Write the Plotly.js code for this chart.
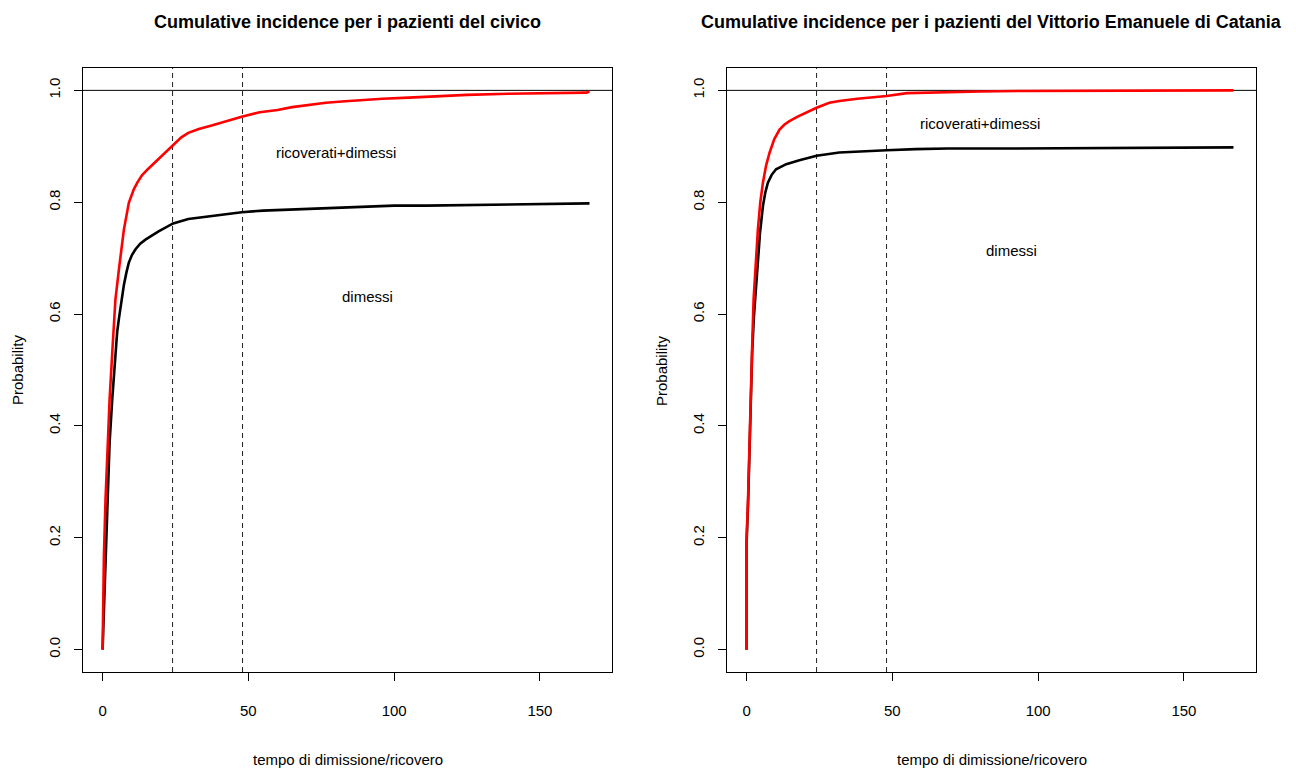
<!DOCTYPE html>
<html>
<head>
<meta charset="utf-8">
<script src="https://cdn.plot.ly/plotly-3.0.1.min.js"></script>
<style>html,body{margin:0;padding:0;background:#fff;}#chart{width:1296px;height:773px;}</style>
</head>
<body>
<div id="chart"></div>
<script>
// ---- Data ----
const civTimeTot = [0,0.45,1.0,1.7,2.4,3.3,4.1,4.4,5.6,7.3,9.0,10.7,12,13.5,15.5,18.1,21,24.2,27,29.4,33,37.4,42,47.7,53.9,60,65,70,76.6,82,90,96,105,113,125,139,155,166,167];
const civProbTot = [0,0.167,0.268,0.36,0.447,0.53,0.59,0.626,0.68,0.751,0.799,0.823,0.836,0.848,0.859,0.872,0.886,0.902,0.916,0.924,0.931,0.937,0.944,0.953,0.961,0.965,0.97,0.974,0.978,0.98,0.983,0.985,0.987,0.989,0.992,0.994,0.995,0.996,0.998];
const civTimeDim = [0,0.2,0.8,1.6,2.4,3.3,4.2,5.0,5.6,6.5,7.3,8.2,9.0,10.1,11.3,12.9,14.7,19.2,24.2,29.4,38,47.7,55,65,74,82,90.7,100,111,125,146,166,167];
const civProbDim = [0,0.03,0.125,0.268,0.37,0.447,0.52,0.568,0.592,0.625,0.652,0.675,0.692,0.706,0.716,0.726,0.733,0.748,0.762,0.77,0.776,0.782,0.785,0.787,0.79,0.791,0.793,0.794,0.794,0.795,0.796,0.797,0.798];

const veTimeTot = [0,0,0.5,0.9,1.37,1.9,2.4,2.73,3.87,4.7,5.6,6.7,7.9,9.5,11.3,13,14.7,17.5,20.4,24,28.4,31.8,38,48,55,62,70,80,94.5,120,150,167];
const veProbTot = [0,0.2,0.27,0.36,0.447,0.54,0.626,0.656,0.751,0.8,0.835,0.866,0.889,0.913,0.93,0.939,0.945,0.953,0.96,0.969,0.978,0.981,0.985,0.99,0.995,0.996,0.997,0.998,0.999,0.999,0.999,1.0];
const veTimeDim = [0,0,0.5,0.9,1.4,1.9,2.5,3.1,3.87,4.6,5.6,6.4,7.3,8.6,10.1,11.8,13.6,18.1,24,31.8,38,48,58,69,90,120,150,167];
const veProbDim = [0,0.19,0.26,0.35,0.44,0.53,0.595,0.635,0.69,0.745,0.793,0.817,0.835,0.849,0.859,0.864,0.868,0.875,0.883,0.889,0.891,0.893,0.895,0.896,0.896,0.897,0.897,0.898];

const xTicks = [0,50,100,150];
const yTicks = [0,0.2,0.4,0.6,0.8,1.0];
const yTickText = ['0.0','0.2','0.4','0.6','0.8','1.0'];
const vLines = [24,48];
const hLine = 1;

const titles = ['Cumulative incidence per i pazienti del civico','Cumulative incidence per i pazienti del Vittorio Emanuele di Catania'];
const xTitle = 'tempo di dimissione/ricovero';
const yTitle = 'Probability';
const labelTot = 'ricoverati+dimessi';
const labelDim = 'dimessi';
const civLabelPos = {tot:[80,0.889], dim:[91,0.631]};
const veLabelPos = {tot:[80,0.941], dim:[91,0.714]};

// ---- Styling ----
const FONT = 'Liberation Sans, Arial, sans-serif';
const FS = 15;

function mkLine(x,y,color,xa,ya,name){
  return {x:x,y:y,type:'scatter',mode:'lines',name:name,xaxis:xa,yaxis:ya,
    line:{color:color,width:2.6},hoverinfo:'x+y',showlegend:false};
}
const data = [
  mkLine(civTimeDim,civProbDim,'#000000','x','y','dimessi'),
  mkLine(civTimeTot,civProbTot,'#ff0000','x','y','ricoverati+dimessi'),
  mkLine(veTimeDim,veProbDim,'#000000','x2','y2','dimessi'),
  mkLine(veTimeTot,veProbTot,'#ff0000','x2','y2','ricoverati+dimessi')
];

function xAx(domain,anchor){
  return {domain:domain,anchor:anchor,range:[-6.72,174.72],tickvals:xTicks,ticktext:xTicks.map(String),
    ticks:'outside',ticklen:8,tickwidth:1,tickcolor:'#000',showline:true,mirror:true,linecolor:'#000',linewidth:1,
    showgrid:false,zeroline:false,tickfont:{family:FONT,size:FS,color:'#000'},ticklabelstandoff:17,automargin:false};
}
function yAx(domain,anchor){
  return {domain:domain,anchor:anchor,range:[-0.04,1.04],tickvals:yTicks,ticktext:yTickText,tickangle:-90,
    ticks:'outside',ticklen:8,tickwidth:1,tickcolor:'#000',showline:true,mirror:true,linecolor:'#000',linewidth:1,
    showgrid:false,zeroline:false,tickfont:{family:FONT,size:FS,color:'#000'},ticklabelstandoff:8,automargin:false};
}
const yDom = [101/773, 705/773];
const xDom1 = [83/1296, 612/1296];
const xDom2 = [727/1296, 1256/1296];

const shapes = [];
[['x','y'],['x2','y2']].forEach(([xa,ya])=>{
  vLines.forEach(v=>shapes.push({type:'line',xref:xa,yref:ya+' domain',x0:v,x1:v,y0:0,y1:1,
    line:{color:'#222',width:1,dash:'5px,4px'},layer:'below'}));
  shapes.push({type:'line',xref:xa+' domain',yref:ya,x0:0,x1:1,y0:hLine,y1:hLine,line:{color:'#000',width:1},layer:'below'});
});

const annotations = [];
[[xDom1,'x','y',civLabelPos,0],[xDom2,'x2','y2',veLabelPos,1]].forEach(([dom,xa,ya,lp,i])=>{
  const cx=(dom[0]+dom[1])/2;
  annotations.push({xref:'paper',yref:'paper',x:cx,y:1-22/773,text:'<b>'+titles[i]+'</b>',showarrow:false,
    xanchor:'center',yanchor:'middle',font:{family:FONT,size:18,color:'#000'}});
  annotations.push({xref:'paper',yref:'paper',x:cx,y:1-759/773,text:xTitle,showarrow:false,
    xanchor:'center',yanchor:'middle',font:{family:FONT,size:FS,color:'#000'}});
  annotations.push({xref:'paper',yref:'paper',x:dom[0]-65/1296,y:(yDom[0]+yDom[1])/2,text:yTitle,showarrow:false,textangle:-90,
    xanchor:'center',yanchor:'middle',font:{family:FONT,size:FS,color:'#000'}});
  annotations.push({xref:xa,yref:ya,x:lp.tot[0],y:lp.tot[1],text:labelTot,showarrow:false,
    xanchor:'center',yanchor:'middle',font:{family:FONT,size:FS,color:'#000'}});
  annotations.push({xref:xa,yref:ya,x:lp.dim[0],y:lp.dim[1],text:labelDim,showarrow:false,
    xanchor:'center',yanchor:'middle',font:{family:FONT,size:FS,color:'#000'}});
});

const layout = {
  width:1296,height:773,margin:{l:0,r:0,t:0,b:0},paper_bgcolor:'#fff',plot_bgcolor:'#fff',
  showlegend:false,font:{family:FONT,size:FS,color:'#000'},
  xaxis:xAx(xDom1,'y'),yaxis:yAx(yDom,'x'),
  xaxis2:xAx(xDom2,'y2'),yaxis2:yAx(yDom,'x2'),
  shapes:shapes,annotations:annotations
};
Plotly.newPlot('chart',data,layout,{displayModeBar:false});
</script>
</body>
</html>
